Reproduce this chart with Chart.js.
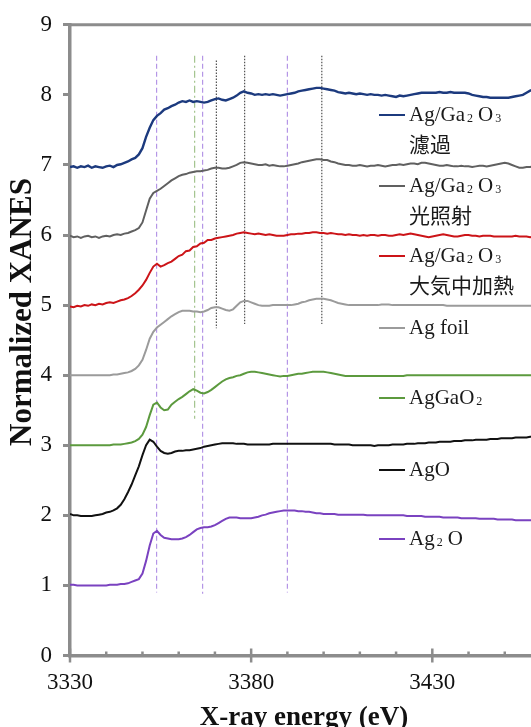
<!DOCTYPE html>
<html>
<head>
<meta charset="utf-8">
<script src="https://cdn.jsdelivr.net/npm/chart.js@4.4.1/dist/chart.umd.min.js"></script>
<style>
html, body { margin: 0; padding: 0; overflow: hidden; background: #fff; }
canvas { display: block; }
</style>
</head>
<body>
<canvas id="myChart" width="560" height="727"></canvas>
<script>
// energy grid (eV)
const energy = [
  3330,3331,3332,3333,3334,3335,3336,3337,3338,3339,
  3340,3341,3342,3343,3344,3345,3346,3347,3348,3349,
  3350,3351,3352,3353,3354,3355,3356,3357,3358,3359,
  3360,3361,3362,3363,3364,3365,3366,3367,3368,3369,
  3370,3371,3372,3373,3374,3375,3376,3377,3378,3379,
  3380,3381,3382,3383,3384,3385,3386,3387,3388,3389,
  3390,3391,3392,3393,3394,3395,3396,3397,3398,3399,
  3400,3401,3402,3403,3404,3405,3406,3407,3408,3409,
  3410,3411,3412,3413,3414,3415,3416,3417,3418,3419,
  3420,3421,3422,3423,3424,3425,3426,3427,3428,3429,
  3430,3431,3432,3433,3434,3435,3436,3437,3438,3439,
  3440,3441,3442,3443,3444,3445,3446,3447,3448,3449,
  3450,3451,3452,3453,3454,3455,3456,3457,3458,3459,
  3460
];

// Ag/Ga2O3 濾過
const filtered = [
  6.97,6.98,6.96,6.98,6.97,6.99,6.96,6.98,6.97,6.96,
  6.98,6.99,6.97,7.00,7.01,7.03,7.05,7.08,7.10,7.15,
  7.24,7.40,7.53,7.64,7.70,7.74,7.79,7.81,7.84,7.86,
  7.89,7.91,7.90,7.92,7.90,7.91,7.90,7.89,7.90,7.92,
  7.94,7.95,7.93,7.92,7.94,7.96,7.99,8.03,8.05,8.03,
  8.02,8.00,8.01,8.00,8.01,8.00,8.01,8.00,7.99,8.00,
  8.01,8.02,8.03,8.05,8.06,8.07,8.08,8.09,8.10,8.10,
  8.09,8.08,8.07,8.06,8.04,8.03,8.02,8.03,8.02,8.01,
  8.02,8.01,8.00,8.01,8.00,8.00,7.99,8.00,7.99,7.98,
  7.97,7.99,7.98,7.99,8.00,8.01,8.02,8.03,8.03,8.03,
  8.03,8.03,8.04,8.03,8.03,8.04,8.03,8.03,8.03,8.03,
  8.02,8.00,7.99,7.98,7.97,7.97,7.96,7.96,7.96,7.96,
  7.96,7.96,7.97,7.98,7.99,8.00,8.03,8.06,8.08,8.10,
  8.11
];

// Ag/Ga2O3 光照射
const irradiated = [
  5.99,5.97,5.98,5.96,5.98,5.99,5.97,5.98,5.96,5.98,
  5.99,5.98,6.00,6.01,6.00,6.02,6.03,6.05,6.07,6.10,
  6.18,6.35,6.52,6.60,6.63,6.66,6.70,6.74,6.78,6.81,
  6.84,6.86,6.87,6.89,6.90,6.91,6.91,6.92,6.93,6.95,
  6.96,6.96,6.95,6.95,6.96,6.98,7.00,7.03,7.04,7.03,
  7.02,7.01,7.00,7.00,7.01,6.99,7.00,6.99,6.98,6.98,
  6.99,7.00,7.01,7.02,7.04,7.05,7.06,7.07,7.08,7.08,
  7.07,7.07,7.05,7.04,7.02,7.01,7.00,7.00,6.99,6.99,
  7.00,6.99,6.98,6.99,6.99,7.00,6.99,6.98,6.99,7.00,
  7.00,7.01,7.00,7.01,7.02,7.02,7.01,7.03,7.03,7.02,
  7.01,7.00,6.99,6.99,7.00,6.99,6.98,6.98,6.99,6.98,
  6.98,6.97,6.98,6.99,6.99,6.98,6.99,7.00,7.01,7.02,
  7.03,7.02,7.00,6.98,6.96,6.96,6.97,6.97,6.98,6.98,
  6.98
];

// Ag/Ga2O3 大気中加熱
const heated = [
  4.98,4.97,4.99,4.98,5.00,4.99,5.01,5.00,5.02,5.01,
  5.03,5.04,5.03,5.05,5.07,5.08,5.10,5.13,5.17,5.22,
  5.28,5.36,5.46,5.55,5.59,5.55,5.57,5.60,5.62,5.66,
  5.70,5.72,5.77,5.78,5.83,5.84,5.88,5.89,5.93,5.93,
  5.95,5.96,5.97,5.98,5.99,6.00,6.02,6.03,6.04,6.03,
  6.02,6.01,6.02,6.01,6.00,6.01,6.00,5.99,5.99,5.99,
  6.00,6.01,6.01,6.02,6.02,6.03,6.03,6.04,6.04,6.03,
  6.03,6.02,6.03,6.02,6.01,6.01,6.00,6.01,6.00,6.00,
  5.99,6.00,5.99,6.00,6.00,5.99,6.00,6.00,5.99,5.99,
  6.00,6.01,6.00,6.01,6.02,6.01,6.00,5.99,5.98,5.97,
  5.98,5.99,6.00,6.01,6.00,5.99,5.98,5.98,5.99,6.00,
  6.00,5.99,5.99,5.98,5.99,5.99,5.99,5.98,5.98,5.98,
  5.98,5.98,5.98,5.99,5.98,5.98,5.98,5.97,5.98,5.98,
  5.98
];

// Ag foil
const agFoil = [
  4.00,4.00,4.00,4.00,4.00,4.00,4.00,4.00,4.00,4.00,
  4.00,4.00,4.01,4.01,4.02,4.03,4.04,4.06,4.09,4.14,
  4.22,4.36,4.52,4.62,4.68,4.72,4.76,4.80,4.84,4.87,
  4.90,4.92,4.92,4.92,4.91,4.91,4.90,4.91,4.93,4.96,
  4.97,4.97,4.95,4.93,4.92,4.94,4.99,5.04,5.06,5.06,
  5.04,5.02,5.00,4.99,4.99,4.99,5.00,5.00,5.00,5.00,
  5.00,5.00,5.01,5.02,5.04,5.05,5.07,5.08,5.09,5.09,
  5.09,5.08,5.07,5.05,5.03,5.02,5.01,5.00,5.00,5.00,
  5.00,5.00,5.00,5.00,5.00,5.00,5.01,5.01,5.01,5.00,
  5.00,5.00,5.00,5.00,5.00,5.00,5.00,5.00,5.00,5.00,
  5.00,5.00,5.00,5.00,4.99,4.99,4.99,4.99,4.99,4.99,
  4.99,4.99,4.99,4.99,4.99,4.99,4.99,4.99,4.99,4.99,
  4.99,4.99,4.99,4.99,4.99,4.99,4.99,4.99,4.99,4.99,
  4.99
];

// AgGaO2
const agGaO2 = [
  3.00,3.00,3.00,3.00,3.00,3.00,3.00,3.00,3.00,3.00,
  3.00,3.00,3.01,3.01,3.01,3.02,3.03,3.04,3.06,3.09,
  3.15,3.26,3.43,3.58,3.61,3.54,3.50,3.51,3.58,3.62,
  3.66,3.69,3.73,3.77,3.80,3.78,3.75,3.74,3.76,3.79,
  3.83,3.87,3.91,3.94,3.96,3.97,3.99,4.00,4.02,4.04,
  4.05,4.05,4.04,4.03,4.02,4.01,4.00,3.99,3.98,3.99,
  3.99,4.00,4.01,4.02,4.02,4.03,4.04,4.05,4.05,4.05,
  4.05,4.04,4.03,4.02,4.01,4.00,3.99,3.99,3.99,3.99,
  3.99,3.99,3.99,3.99,3.99,3.99,3.99,3.99,3.99,3.99,
  3.99,3.99,3.99,4.00,4.00,4.00,4.00,4.00,4.00,4.00,
  4.00,4.00,4.00,4.00,4.00,4.00,4.00,4.00,4.00,4.00,
  4.00,4.00,4.00,4.00,4.00,4.00,4.00,4.00,4.00,4.00,
  4.00,4.00,4.00,4.00,4.00,4.00,4.00,4.00,4.00,4.00,
  4.00
];

// AgO
const agO = [
  2.02,2.00,2.00,1.99,1.99,1.99,1.99,2.00,2.01,2.02,
  2.04,2.05,2.07,2.10,2.15,2.23,2.33,2.44,2.57,2.70,
  2.86,3.00,3.08,3.05,2.98,2.92,2.89,2.88,2.89,2.91,
  2.92,2.92,2.93,2.93,2.94,2.95,2.96,2.98,2.99,3.00,
  3.01,3.02,3.03,3.03,3.03,3.03,3.02,3.02,3.02,3.01,
  3.01,3.01,3.01,3.01,3.01,3.01,3.02,3.02,3.02,3.02,
  3.02,3.02,3.02,3.02,3.02,3.02,3.02,3.02,3.02,3.02,
  3.02,3.02,3.02,3.01,3.01,3.01,3.01,3.01,3.00,3.00,
  3.00,3.00,3.00,3.00,2.99,3.00,3.00,3.00,3.00,3.01,
  3.01,3.01,3.01,3.02,3.02,3.02,3.03,3.03,3.03,3.04,
  3.04,3.04,3.05,3.05,3.05,3.05,3.06,3.06,3.06,3.07,
  3.07,3.07,3.08,3.08,3.08,3.08,3.09,3.09,3.09,3.10,
  3.10,3.10,3.10,3.11,3.11,3.11,3.11,3.12,3.12,3.12,
  3.13
];

// Ag2O
const ag2O = [
  1.01,1.01,1.00,1.00,1.00,1.00,1.00,1.00,1.00,1.00,
  1.00,1.01,1.01,1.01,1.02,1.02,1.03,1.05,1.07,1.09,
  1.17,1.35,1.57,1.74,1.78,1.72,1.68,1.67,1.66,1.66,
  1.66,1.67,1.69,1.72,1.76,1.80,1.82,1.83,1.83,1.84,
  1.86,1.89,1.92,1.95,1.97,1.97,1.97,1.96,1.96,1.96,
  1.96,1.97,1.98,2.00,2.01,2.03,2.04,2.05,2.06,2.07,
  2.07,2.07,2.07,2.06,2.06,2.05,2.05,2.04,2.03,2.03,
  2.02,2.02,2.02,2.02,2.01,2.01,2.01,2.01,2.01,2.01,
  2.01,2.01,2.00,2.00,2.00,2.00,2.00,2.00,2.00,2.00,
  2.00,2.00,2.00,1.99,1.99,1.99,1.99,1.99,1.98,1.98,
  1.98,1.98,1.98,1.97,1.97,1.97,1.97,1.97,1.96,1.96,
  1.96,1.96,1.96,1.95,1.95,1.95,1.95,1.95,1.94,1.94,
  1.94,1.94,1.94,1.93,1.93,1.93,1.93,1.93,1.93,1.93,
  1.93
];

const seriesNames = ['Ag/Ga₂O₃\n濾過', 'Ag/Ga₂O₃\n光照射', 'Ag/Ga₂O₃\n大気中加熱', 'Ag foil', 'AgGaO₂', 'AgO', 'Ag₂O'];
const seriesColors = ['#1c3a7e', '#606060', '#cc1418', '#9b9b9b', '#5c9a3e', '#111111', '#7a42c0'];
const seriesWidths = [2.4, 2, 2, 2, 2, 2, 2];

// vertical reference lines
const guideEnergy = [3353.9, 3364.4, 3366.6, 3370.4, 3378.2, 3390.0, 3399.5];
const guideTop    = [8.56, 8.56, 8.56, 8.49, 8.56, 8.56, 8.56];
const guideBottom = [0.90, 3.38, 0.88, 4.67, 4.73, 0.90, 4.73];
const guideKind   = ['purple', 'green', 'purple', 'black', 'black', 'purple', 'black'];

const yTitle = 'Normalized XANES';
const xTitle = 'X-ray energy (eV)';

const guideStyle = {
  purple: { color: '#b596e6', dash: [5, 3] },
  green:  { color: '#a3c48e', dash: [7, 3, 2, 3] },
  black:  { color: '#505050', dash: [1.5, 1.5] }
};

const curves = [filtered, irradiated, heated, agFoil, agGaO2, agO, ag2O];
const datasets = curves.map(function (vals, i) {
  return {
    label: seriesNames[i],
    data: vals.map(function (v, j) { return { x: energy[j], y: v }; }),
    borderColor: seriesColors[i],
    borderWidth: seriesWidths[i],
    pointRadius: 0,
    tension: 0,
    fill: false,
    order: 1
  };
});
guideEnergy.forEach(function (e, i) {
  const st = guideStyle[guideKind[i]];
  datasets.push({
    label: 'guide',
    data: [{ x: e, y: guideTop[i] }, { x: e, y: guideBottom[i] }],
    borderColor: st.color,
    borderDash: st.dash,
    borderWidth: 1.2,
    pointRadius: 0,
    fill: false,
    order: 5
  });
});

const SERIF = "'Liberation Serif', 'Noto Sans CJK JP', serif";
const subMap = { '₂': '2', '₃': '3' };

// draws text with subscript digits
function drawRich(ctx, text, x, y) {
  let cx = x;
  let run = '';
  const flush = function () {
    if (!run) return;
    ctx.font = '21px ' + SERIF;
    ctx.textBaseline = 'middle';
    ctx.fillText(run, cx, y);
    cx += ctx.measureText(run).width;
    run = '';
  };
  for (const ch of text) {
    if (subMap[ch]) {
      flush();
      cx += 2;
      ctx.font = '12px ' + SERIF;
      ctx.textBaseline = 'alphabetic';
      ctx.fillText(subMap[ch], cx, y + 7);
      cx += ctx.measureText(subMap[ch]).width + 5;
    } else {
      run += ch;
    }
  }
  flush();
}

const legendY = [115, 186, 256, 328, 398, 470, 539];

const decor = {
  id: 'decor',
  afterDraw(chart) {
    const ctx = chart.ctx;
    const area = chart.chartArea;
    const xs = chart.scales.x;
    ctx.save();
    // top frame
    ctx.strokeStyle = '#8c8c8c';
    ctx.lineWidth = 3;
    ctx.beginPath();
    ctx.moveTo(area.left - 1.5, area.top);
    ctx.lineTo(chart.width, area.top);
    ctx.stroke();
    // x tick marks
    ctx.lineWidth = 2.5;
    xs.ticks.forEach(function (t) {
      const px = xs.getPixelForValue(t.value);
      const major = (t.value - 3330) % 50 === 0;
      ctx.beginPath();
      ctx.moveTo(px, area.bottom - (major ? 7 : 4));
      ctx.lineTo(px, area.bottom + (major ? 7 : 0));
      ctx.stroke();
    });
    // axis titles
    ctx.fillStyle = '#111';
    ctx.font = 'bold 27px ' + SERIF;
    ctx.textAlign = 'center';
    ctx.textBaseline = 'alphabetic';
    ctx.fillText(xTitle, 304, 725);
    ctx.save();
    ctx.translate(23, 312);
    ctx.rotate(-Math.PI / 2);
    ctx.font = 'bold 31px ' + SERIF;
    ctx.textBaseline = 'middle';
    ctx.fillText(yTitle, 0, 0);
    ctx.restore();
    // legend
    ctx.textAlign = 'left';
    seriesNames.forEach(function (name, i) {
      const y0 = legendY[i];
      ctx.strokeStyle = seriesColors[i];
      ctx.lineWidth = 2;
      ctx.beginPath();
      ctx.moveTo(379, y0);
      ctx.lineTo(405, y0);
      ctx.stroke();
      ctx.fillStyle = '#1a1a1a';
      name.split('\n').forEach(function (ln, k) {
        drawRich(ctx, ln, 409, y0 + k * 31);
      });
    });
    ctx.restore();
  }
};

const ctx = document.getElementById('myChart').getContext('2d');
const myChart = new Chart(ctx, {
  type: 'line',
  data: { datasets: datasets },
  options: {
    responsive: false,
    animation: false,
    layout: { padding: { top: 20.5, right: 19, left: 0, bottom: 0 } },
    plugins: { legend: { display: false }, tooltip: { enabled: false } },
    scales: {
      x: {
        type: 'linear',
        min: 3330,
        max: 3460,
        afterFit: function (s) { s.height = 71.5; },
        grid: { display: false, drawTicks: false },
        border: { display: true, color: '#8c8c8c', width: 3.5 },
        ticks: {
          stepSize: 10,
          autoSkip: false,
          maxRotation: 0,
          padding: 14,
          color: '#111',
          font: { family: SERIF, size: 23 },
          callback: function (v) { return (v - 3330) % 50 === 0 ? String(v) : ''; }
        }
      },
      y: {
        min: 0,
        max: 9,
        afterFit: function (s) { s.width = 70; },
        grid: { drawOnChartArea: false, drawTicks: true, tickLength: 7, color: '#8c8c8c', lineWidth: 3 },
        border: { display: true, color: '#8c8c8c', width: 3.5 },
        ticks: {
          stepSize: 1,
          padding: 11,
          color: '#111',
          font: { family: SERIF, size: 23 }
        }
      }
    }
  },
  plugins: [decor]
});
</script>
</body>
</html>
